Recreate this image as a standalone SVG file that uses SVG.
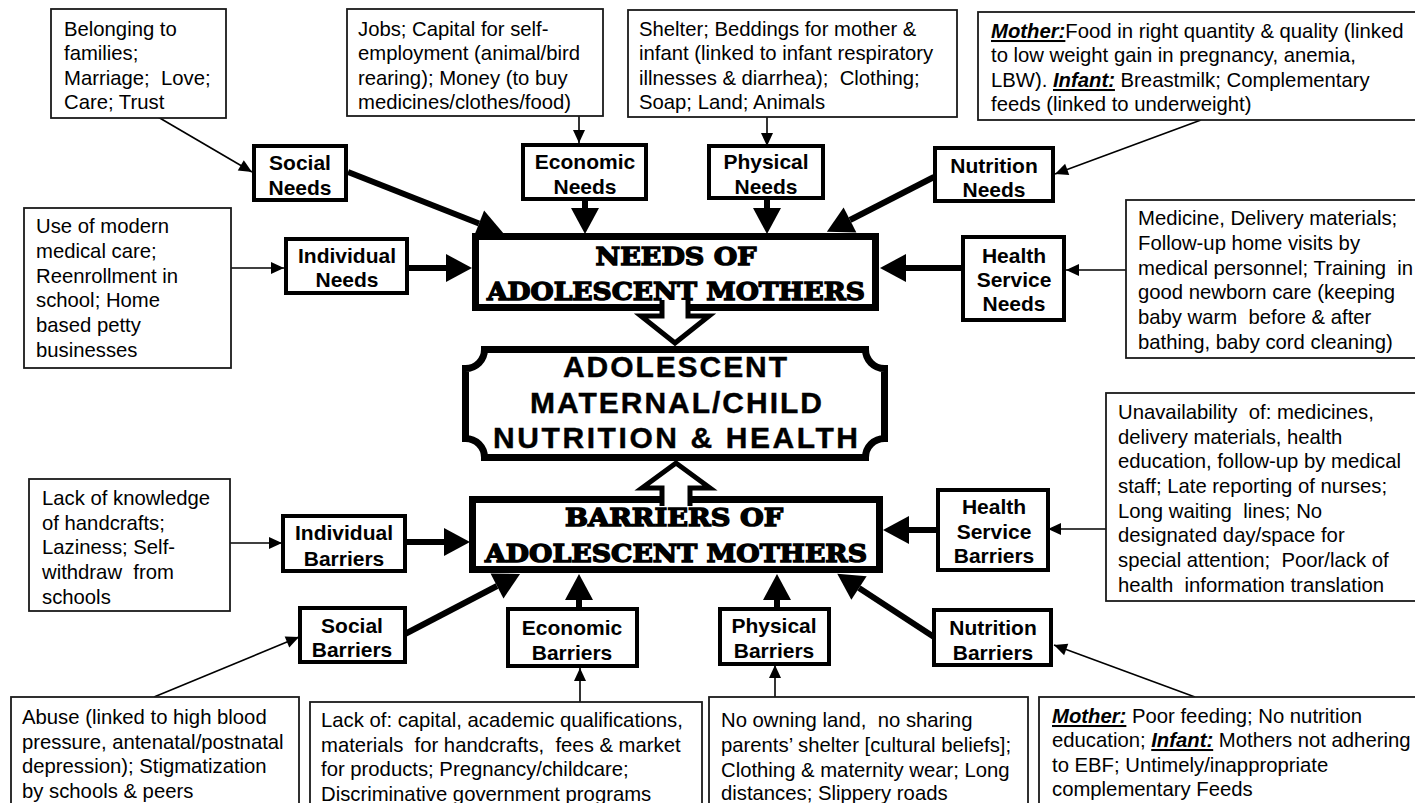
<svg xmlns="http://www.w3.org/2000/svg" width="1415" height="803" viewBox="0 0 1415 803">
<style>
.tb{fill:#fff;stroke:#1a1a1a;stroke-width:1.8}
.nb{fill:#fff;stroke:#000;stroke-width:4}
.bb{fill:#fff;stroke:#000;stroke-width:7}
.t{font-family:"Liberation Sans",Arial,sans-serif;font-size:20.3px;fill:#000}
.n{font-family:"Liberation Sans",Arial,sans-serif;font-size:21px;font-weight:bold;fill:#000;text-anchor:middle}
.s{font-family:"DejaVu Serif","Liberation Serif",serif;font-size:25px;font-weight:bold;fill:#000;stroke:#000;stroke-width:1.4;text-anchor:middle}
.c{font-family:"Liberation Sans",Arial,sans-serif;font-size:30px;font-weight:bold;fill:#000;stroke:#000;stroke-width:0.4;text-anchor:middle}
.em{font-weight:bold;font-style:italic;text-decoration:underline}
.thick{fill:none;stroke:#000;stroke-width:6;marker-end:url(#mk)}
.thin{fill:none;stroke:#000;stroke-width:1.6;marker-end:url(#ms)}
.blk{fill:#fff;stroke:#000;stroke-width:5;stroke-linejoin:miter}
</style>
<defs>
<marker id="mk" markerUnits="userSpaceOnUse" viewBox="0 -14 26 28" refX="0" refY="0" markerWidth="26" markerHeight="28" orient="auto" overflow="visible"><path d="M0,-14 L26,0 L0,14 z" fill="#000"/></marker>
<marker id="ms" markerUnits="userSpaceOnUse" viewBox="0 -6 13 12" refX="13" refY="0" markerWidth="13" markerHeight="12" orient="auto" overflow="visible"><path d="M0,-6 L13,0 L0,6 z" fill="#000"/></marker>
</defs>
<rect width="1415" height="803" fill="#fff"/>

<g id="connectors">
<path class="thick" d="M348,172 L479,223.5"/>
<path class="thick" d="M585,199 L585,208"/>
<path class="thick" d="M409,268 L446,268"/>
<path class="thick" d="M767,198 L767,208"/>
<path class="thick" d="M934,177 L850,220"/>
<path class="thick" d="M963,268 L906,268"/>
<path class="thick" d="M405,542 L444,542"/>
<path class="thick" d="M405,634 L497,586"/>
<path class="thick" d="M579,609 L579,600"/>
<path class="thick" d="M777,609 L777,600"/>
<path class="thick" d="M934,637 L859,588"/>
<path class="thick" d="M938,530 L909,530"/>
<path class="thin" d="M158,117 L252,172"/>
<path class="thin" d="M579,116 L579,143"/>
<path class="thin" d="M767,117 L767,146"/>
<path class="thin" d="M1201,120 L1055,174"/>
<path class="thin" d="M231,268 L284,268"/>
<path class="thin" d="M1126,270 L1066,270"/>
<path class="thin" d="M230,543 L282,543"/>
<path class="thin" d="M1106,529 L1048,529"/>
<path class="thin" d="M154,697 L299,637"/>
<path class="thin" d="M580,702 L580,668"/>
<path class="thin" d="M775,697 L775,665"/>
<path class="thin" d="M1195,697 L1054,645"/>
</g>

<g id="needs-main">
<rect class="bb" x="475.5" y="236.5" width="400" height="71"/>
<text class="s" x="676" y="265" textLength="161" lengthAdjust="spacingAndGlyphs">NEEDS OF</text>
<text class="s" x="676" y="300" textLength="378" lengthAdjust="spacingAndGlyphs">ADOLESCENT MOTHERS</text>
</g>
<g id="barriers-main">
<rect class="bb" x="472.5" y="499.5" width="407" height="70"/>
<text class="s" x="674" y="526" textLength="218" lengthAdjust="spacingAndGlyphs">BARRIERS OF</text>
<text class="s" x="676" y="562" textLength="382" lengthAdjust="spacingAndGlyphs">ADOLESCENT MOTHERS</text>
</g>
<g id="center">
<path d="M484.5,349.5 H865.5 A19,19 0 0 0 884.5,368.5 V438.5 A19,19 0 0 0 865.5,457.5 H484.5 A19,19 0 0 0 465.5,438.5 V368.5 A19,19 0 0 0 484.5,349.5 Z" fill="#fff" stroke="#000" stroke-width="7"/>
<text class="c" x="675" y="377" textLength="224" lengthAdjust="spacing">ADOLESCENT</text>
<text class="c" x="676" y="413" textLength="292" lengthAdjust="spacing">MATERNAL/CHILD</text>
<text class="c" x="675.5" y="448" textLength="365" lengthAdjust="spacing">NUTRITION &amp; HEALTH</text>
</g>
<g id="block-arrows">
<path class="blk" d="M662,300 V316 H641 L675,343 L709,316 H688 V300"/>
<path class="blk" d="M662,506 V488 H642 L676,463 L710,488 H690 V506"/>
</g>

<g id="social-needs"><rect class="nb" x="254" y="146" width="92" height="54"/><text class="n" x="300" y="170">Social</text><text class="n" x="300" y="195">Needs</text></g>
<g id="economic-needs"><rect class="nb" x="523" y="145" width="123" height="54"/><text class="n" x="585" y="169">Economic</text><text class="n" x="585" y="194">Needs</text></g>
<g id="individual-needs"><rect class="nb" x="286" y="239" width="121" height="54"/><text class="n" x="347" y="263">Individual</text><text class="n" x="347" y="287">Needs</text></g>
<g id="physical-needs"><rect class="nb" x="709" y="146" width="114" height="52"/><text class="n" x="766" y="169">Physical</text><text class="n" x="766" y="194">Needs</text></g>
<g id="nutrition-needs"><rect class="nb" x="935" y="148" width="118" height="53"/><text class="n" x="994" y="173">Nutrition</text><text class="n" x="994" y="197">Needs</text></g>
<g id="health-service-needs"><rect class="nb" x="963" y="237" width="101" height="83"/><text class="n" x="1014" y="263">Health</text><text class="n" x="1014" y="287">Service</text><text class="n" x="1014" y="311">Needs</text></g>
<g id="individual-barriers"><rect class="nb" x="283" y="516" width="122" height="55"/><text class="n" x="344" y="540">Individual</text><text class="n" x="344" y="566">Barriers</text></g>
<g id="social-barriers"><rect class="nb" x="300" y="608" width="105" height="54"/><text class="n" x="352" y="633">Social</text><text class="n" x="352" y="657">Barriers</text></g>
<g id="economic-barriers"><rect class="nb" x="508" y="609" width="129" height="57"/><text class="n" x="572" y="635">Economic</text><text class="n" x="572" y="660">Barriers</text></g>
<g id="physical-barriers"><rect class="nb" x="720" y="609" width="109" height="55"/><text class="n" x="774" y="633">Physical</text><text class="n" x="774" y="658">Barriers</text></g>
<g id="nutrition-barriers"><rect class="nb" x="934" y="610" width="117" height="55"/><text class="n" x="993" y="635">Nutrition</text><text class="n" x="993" y="660">Barriers</text></g>
<g id="health-service-barriers"><rect class="nb" x="938" y="490" width="110" height="80"/><text class="n" x="994" y="514">Health</text><text class="n" x="994" y="539">Service</text><text class="n" x="994" y="563">Barriers</text></g>

<g id="box-social-needs">
<rect class="tb" x="51" y="9" width="175" height="109"/>
<text class="t" x="64" y="36">Belonging to</text>
<text class="t" x="64" y="60">families;</text>
<text class="t" x="64" y="85" xml:space="preserve">Marriage;  Love;</text>
<text class="t" x="64" y="109">Care; Trust</text>
</g>
<g id="box-economic-needs">
<rect class="tb" x="347" y="9" width="256" height="107"/>
<text class="t" x="358" y="36">Jobs; Capital for self-</text>
<text class="t" x="358" y="60">employment (animal/bird</text>
<text class="t" x="358" y="85">rearing); Money (to buy</text>
<text class="t" x="358" y="109">medicines/clothes/food)</text>
</g>
<g id="box-physical-needs">
<rect class="tb" x="628" y="10" width="329" height="107"/>
<text class="t" x="639" y="36">Shelter; Beddings for mother &amp;</text>
<text class="t" x="639" y="60">infant (linked to infant respiratory</text>
<text class="t" x="639" y="85" xml:space="preserve">illnesses &amp; diarrhea);  Clothing;</text>
<text class="t" x="639" y="109">Soap; Land; Animals</text>
</g>
<g id="box-nutrition-needs">
<rect class="tb" x="978" y="12" width="450" height="108"/>
<text class="t" x="991" y="38"><tspan class="em">Mother:</tspan>Food in right quantity &amp; quality (linked</text>
<text class="t" x="991" y="62">to low weight gain in pregnancy, anemia,</text>
<text class="t" x="991" y="87">LBW). <tspan class="em">Infant:</tspan> Breastmilk; Complementary</text>
<text class="t" x="991" y="111">feeds (linked to underweight)</text>
</g>
<g id="box-individual-needs">
<rect class="tb" x="24" y="208" width="207" height="160"/>
<text class="t" x="36" y="233">Use of modern</text>
<text class="t" x="36" y="258">medical care;</text>
<text class="t" x="36" y="283">Reenrollment in</text>
<text class="t" x="36" y="307">school; Home</text>
<text class="t" x="36" y="332">based petty</text>
<text class="t" x="36" y="357">businesses</text>
</g>
<g id="box-health-service-needs">
<rect class="tb" x="1126" y="200" width="300" height="158"/>
<text class="t" x="1138" y="225">Medicine, Delivery materials;</text>
<text class="t" x="1138" y="250">Follow-up home visits by</text>
<text class="t" x="1138" y="275" xml:space="preserve">medical personnel; Training  in</text>
<text class="t" x="1138" y="299">good newborn care (keeping</text>
<text class="t" x="1138" y="324" xml:space="preserve">baby warm  before &amp; after</text>
<text class="t" x="1138" y="349">bathing, baby cord cleaning)</text>
</g>
<g id="box-individual-barriers">
<rect class="tb" x="29" y="479" width="201" height="132"/>
<text class="t" x="42" y="505">Lack of knowledge</text>
<text class="t" x="42" y="530">of handcrafts;</text>
<text class="t" x="42" y="554">Laziness; Self-</text>
<text class="t" x="42" y="579" xml:space="preserve">withdraw  from</text>
<text class="t" x="42" y="604">schools</text>
</g>
<g id="box-health-service-barriers">
<rect class="tb" x="1106" y="393" width="320" height="208"/>
<text class="t" x="1118" y="419" xml:space="preserve">Unavailability  of: medicines,</text>
<text class="t" x="1118" y="444">delivery materials, health</text>
<text class="t" x="1118" y="468">education, follow-up by medical</text>
<text class="t" x="1118" y="493">staff; Late reporting of nurses;</text>
<text class="t" x="1118" y="518" xml:space="preserve">Long waiting  lines; No</text>
<text class="t" x="1118" y="542">designated day/space for</text>
<text class="t" x="1118" y="567" xml:space="preserve">special attention;  Poor/lack of</text>
<text class="t" x="1118" y="592" xml:space="preserve">health  information translation</text>
</g>
<g id="box-social-barriers">
<rect class="tb" x="11" y="697" width="288" height="120"/>
<text class="t" x="22" y="724">Abuse (linked to high blood</text>
<text class="t" x="22" y="749">pressure, antenatal/postnatal</text>
<text class="t" x="22" y="773">depression); Stigmatization</text>
<text class="t" x="22" y="798">by schools &amp; peers</text>
</g>
<g id="box-economic-barriers">
<rect class="tb" x="310" y="702" width="392" height="120"/>
<text class="t" x="321" y="727">Lack of: capital, academic qualifications,</text>
<text class="t" x="321" y="752" xml:space="preserve">materials  for handcrafts,  fees &amp; market</text>
<text class="t" x="321" y="776">for products; Pregnancy/childcare;</text>
<text class="t" x="321" y="801">Discriminative government programs</text>
</g>
<g id="box-physical-barriers">
<rect class="tb" x="709" y="697" width="319" height="120"/>
<text class="t" x="721" y="727" xml:space="preserve">No owning land,  no sharing</text>
<text class="t" x="721" y="752">parents’ shelter [cultural beliefs];</text>
<text class="t" x="721" y="777">Clothing &amp; maternity wear; Long</text>
<text class="t" x="721" y="800">distances; Slippery roads</text>
</g>
<g id="box-nutrition-barriers">
<rect class="tb" x="1039" y="697" width="390" height="120"/>
<text class="t" x="1052" y="723"><tspan class="em">Mother:</tspan> Poor feeding; No nutrition</text>
<text class="t" x="1052" y="747">education; <tspan class="em">Infant:</tspan> Mothers not adhering</text>
<text class="t" x="1052" y="772">to EBF; Untimely/inappropriate</text>
<text class="t" x="1052" y="796">complementary Feeds</text>
</g>
</svg>
